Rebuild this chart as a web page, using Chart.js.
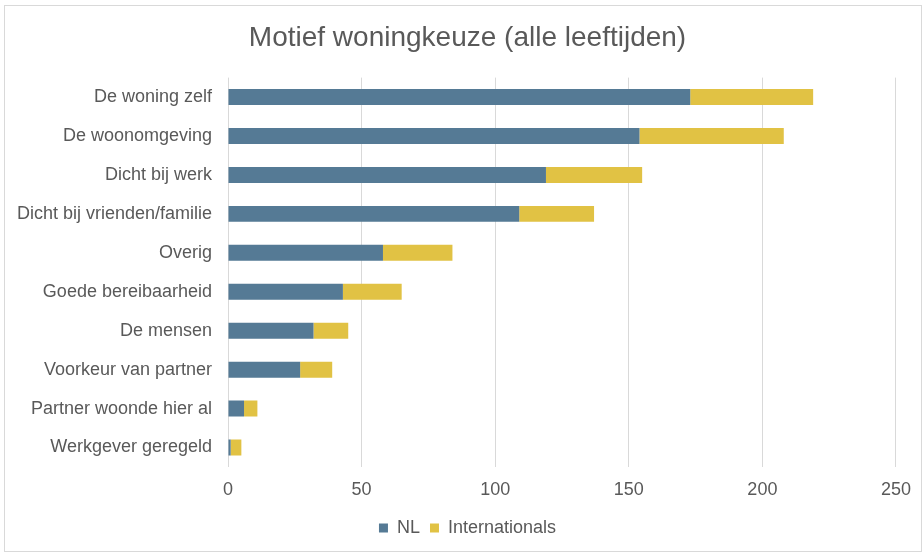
<!DOCTYPE html>
<html>
<head>
<meta charset="utf-8">
<script src="https://cdn.jsdelivr.net/npm/chart.js@4"></script>
<style>
  html, body { margin: 0; padding: 0; background: #fff; }
  #wrap { position: relative; width: 923px; height: 553px; }
  #frame { position: absolute; left: 4px; top: 5px; width: 916px; height: 545px; border: 1px solid #d9d9d9; pointer-events: none; }
  canvas { position: absolute; left: 0; top: 0; }
</style>
</head>
<body>
<div id="wrap">
  <canvas id="motiefChart" width="923" height="553"></canvas>
  <div id="frame"></div>
</div>
<script>
// Motief woningkeuze
const categories = ['De woning zelf', 'De woonomgeving', 'Dicht bij werk', 'Dicht bij vrienden/familie', 'Overig',
    'Goede bereibaarheid', 'De mensen', 'Voorkeur van partner', 'Partner woonde hier al', 'Werkgever geregeld'];
const nlValues = [173, 154, 119, 109, 58, 43, 32, 27, 6, 1];
const internationalsValues = [46, 54, 36, 28, 26, 22, 13, 12, 5, 4];
const xTicks = [0, 50, 100, 150, 200, 250];

const fontFamily = '"Liberation Sans", Arial, sans-serif';
const textColor = '#595959';

// nudge title and legend right so they centre like the original
const shiftBlocks = {
    id: 'shiftBlocks',
    afterLayout(chart) {
        if (chart.titleBlock) chart.titleBlock.left += 28;
        if (chart.legend) chart.legend.left += 28;
    }
};

const ctx = document.getElementById('motiefChart').getContext('2d');
const motiefChart = new Chart(ctx, {
    type: 'bar',
    data: {
        labels: categories,
        datasets: [{
            label: 'NL',
            data: nlValues,
            backgroundColor: '#557a95',
            barPercentage: 0.41,
            categoryPercentage: 1
        }, {
            label: 'Internationals',
            data: internationalsValues,
            backgroundColor: '#e1c244',
            barPercentage: 0.41,
            categoryPercentage: 1
        }]
    },
    options: {
        indexAxis: 'y',
        responsive: false,
        animation: false,
        layout: { padding: { left: 10, right: 26, top: 0, bottom: 6 } },
        scales: {
            x: {
                stacked: true,
                min: 0,
                max: 250,
                afterBuildTicks: (scale) => { scale.ticks = xTicks.map(v => ({ value: v })); },
                afterFit: (scale) => { scale.height = 42; },
                grid: { color: '#d9d9d9', drawTicks: false },
                border: { display: false },
                ticks: { padding: 12, color: textColor, font: { family: fontFamily, size: 18 } }
            },
            y: {
                stacked: true,
                afterFit: (scale) => { scale.width = 218; },
                grid: { display: false, drawTicks: false },
                border: { display: false },
                ticks: { padding: 16, color: textColor, font: { family: fontFamily, size: 18 } }
            }
        },
        plugins: {
            title: {
                display: true,
                text: 'Motief woningkeuze (alle leeftijden)',
                color: textColor,
                font: { family: fontFamily, size: 28, weight: 'normal' },
                padding: { top: 21, bottom: 23 }
            },
            legend: {
                display: true,
                position: 'bottom',
                labels: {
                    color: textColor,
                    boxWidth: 9,
                    boxHeight: 9,
                    padding: 10,
                    font: { family: fontFamily, size: 18 }
                }
            },
            tooltip: { enabled: false }
        }
    },
    plugins: [shiftBlocks]
});
</script>
</body>
</html>
